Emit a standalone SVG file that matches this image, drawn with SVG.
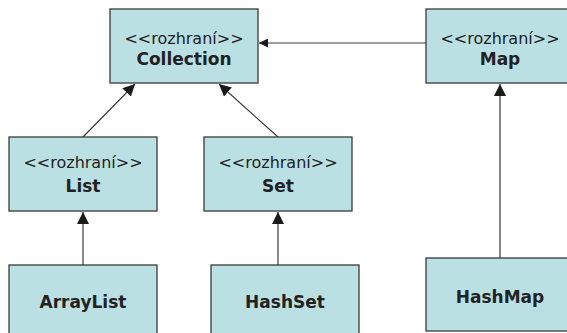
<svg xmlns="http://www.w3.org/2000/svg" width="567" height="333" viewBox="0 0 567 333">
<style>
.box{fill:#BAE0E4;stroke:#3a3a3a;stroke-width:1.3}
.st{font-family:"DejaVu Sans",Verdana,sans-serif;font-size:16px;fill:#222;text-anchor:middle}
.nm{font-family:"DejaVu Sans",Verdana,sans-serif;font-size:17px;font-weight:bold;fill:#222;text-anchor:middle}
.ln{stroke:#3a3a3a;stroke-width:1.2;fill:none}
</style>
<defs>
<marker id="ah" viewBox="0 0 10 10" refX="10" refY="5" markerWidth="9" markerHeight="9" markerUnits="userSpaceOnUse" orient="auto">
<path d="M0,0 L10,5 L0,10 z" fill="#1a1a1a"/>
</marker>
<marker id="ahl" viewBox="0 0 10 10" refX="10" refY="5" markerWidth="12" markerHeight="12" markerUnits="userSpaceOnUse" orient="auto">
<path d="M0,0 L10,5 L0,10 z" fill="#1a1a1a"/>
</marker>
</defs>
<g id="connectors">
<line class="ln" x1="426" y1="43" x2="259" y2="43" marker-end="url(#ah)"/>
<line class="ln" x1="83" y1="137" x2="135" y2="84" marker-end="url(#ahl)"/>
<line class="ln" x1="278" y1="137" x2="219" y2="84" marker-end="url(#ahl)"/>
<line class="ln" x1="83" y1="265" x2="83" y2="212" marker-end="url(#ahl)"/>
<line class="ln" x1="278" y1="265" x2="278" y2="212" marker-end="url(#ahl)"/>
<line class="ln" x1="500" y1="258" x2="500" y2="84" marker-end="url(#ahl)"/>
</g>
<g id="collection">
<rect class="box" x="110" y="9" width="148" height="74"/>
<text class="st" x="184" y="44">&lt;&lt;rozhraní&gt;&gt;</text>
<text class="nm" x="184" y="65">Collection</text>
</g>
<g id="map">
<rect class="box" x="426" y="9" width="148" height="74"/>
<text class="st" x="500" y="44">&lt;&lt;rozhraní&gt;&gt;</text>
<text class="nm" x="500" y="65">Map</text>
</g>
<g id="list">
<rect class="box" x="9" y="137" width="148" height="74"/>
<text class="st" x="83" y="168">&lt;&lt;rozhraní&gt;&gt;</text>
<text class="nm" x="83" y="192">List</text>
</g>
<g id="set">
<rect class="box" x="204" y="137" width="148" height="74"/>
<text class="st" x="278" y="168">&lt;&lt;rozhraní&gt;&gt;</text>
<text class="nm" x="278" y="192">Set</text>
</g>
<g id="arraylist">
<rect class="box" x="9" y="265" width="148" height="74"/>
<text class="nm" x="83" y="308">ArrayList</text>
</g>
<g id="hashset">
<rect class="box" x="211" y="265" width="148" height="74"/>
<text class="nm" x="285" y="308">HashSet</text>
</g>
<g id="hashmap">
<rect class="box" x="426" y="258" width="148" height="73"/>
<text class="nm" x="500" y="303">HashMap</text>
</g>
</svg>
